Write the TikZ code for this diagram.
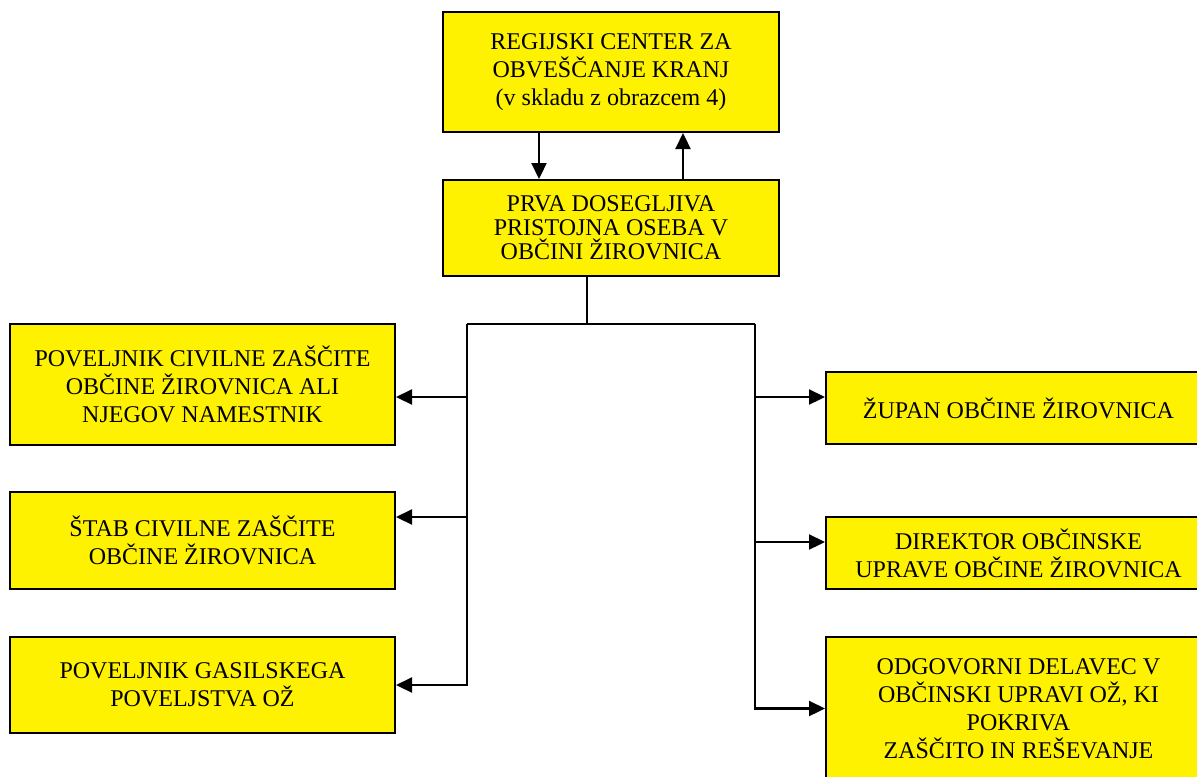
\documentclass[tikz,border=0pt]{standalone}
\usepackage{fontspec}
\setmainfont{Liberation Serif}
\usetikzlibrary{arrows.meta}

\begin{document}
\begin{tikzpicture}[x=0.5pt, y=-0.5pt, % one unit = one pixel of the page
    box/.style={draw=black, line width=1pt, fill=yellow, align=center, inner sep=0pt,
        font=\fontsize{12}{14}\selectfont},
    line/.style={draw=black, line width=1.1pt},
    arr/.style={line, -{Triangle[length=8pt, width=7.5pt]}}]
            % Page frame
            \useasboundingbox (0,0) rectangle (1197,776);
            % Top: regional centre and first contact
            \node[box, minimum width=168pt, minimum height=60pt] (reg) at (611,72) {REGIJSKI CENTER ZA\\OBVEŠČANJE KRANJ\\(v skladu z obrazcem 4)};
            \node[box, minimum width=168pt, minimum height=48pt, font=\fontsize{12}{12}\selectfont] (prva) at (611,228) {PRVA DOSEGLJIVA\\PRISTOJNA OSEBA V\\OBČINI ŽIROVNICA};
            % Left column
            \node[box, minimum width=192.5pt, minimum height=60.5pt] (pov) at (202.5,384.5) {POVELJNIK CIVILNE ZAŠČITE\\OBČINE ŽIROVNICA ALI\\NJEGOV NAMESTNIK};
            \node[box, minimum width=192.5pt, minimum height=48.5pt] (stab) at (202.5,540.5) {ŠTAB CIVILNE ZAŠČITE\\OBČINE ŽIROVNICA};
            \node[box, minimum width=192.5pt, minimum height=48pt] (gas) at (202.5,685) {POVELJNIK GASILSKEGA\\POVELJSTVA OŽ};
            % Right column
            \node[box, minimum width=192.5pt, minimum height=36pt] (zup) at (1018.5,408) {ŽUPAN OBČINE ŽIROVNICA};
            \node[box, minimum width=192.5pt, minimum height=36pt] (dir) at (1018.5,553) {DIREKTOR OBČINSKE\\UPRAVE OBČINE ŽIROVNICA};
            \node[box, minimum width=192.5pt, minimum height=71.5pt] (odg) at (1018.5,708.5) {ODGOVORNI DELAVEC V\\OBČINSKI UPRAVI OŽ, KI\\POKRIVA\\ZAŠČITO IN REŠEVANJE};

            % Branch points
            \coordinate (split) at (587,324);
            \coordinate (lsplit) at (467,324);
            \coordinate (rsplit) at (755,324);

            \draw[arr] ([xshift=-36pt]reg.south) -- ([xshift=-36pt]prva.north);
            \draw[arr] ([xshift=36pt]prva.north) -- ([xshift=36pt]reg.south);
            \draw[line] ([xshift=-12pt]prva.south) -- (split);
            \draw[line] (lsplit) -- (rsplit);
            \draw[arr] (lsplit) |- ([yshift=-6.25pt]pov.east);
            \draw[arr] (lsplit) |- ([yshift=11.75pt]stab.east);
            \draw[arr] (lsplit) |- (gas.east);
            \draw[arr] (rsplit) |- ([yshift=5.5pt]zup.west);
            \draw[arr] (rsplit) |- ([yshift=5.5pt]dir.west);
            \draw[arr] (rsplit) |- (odg.west);
        \end{tikzpicture}
\end{document}
